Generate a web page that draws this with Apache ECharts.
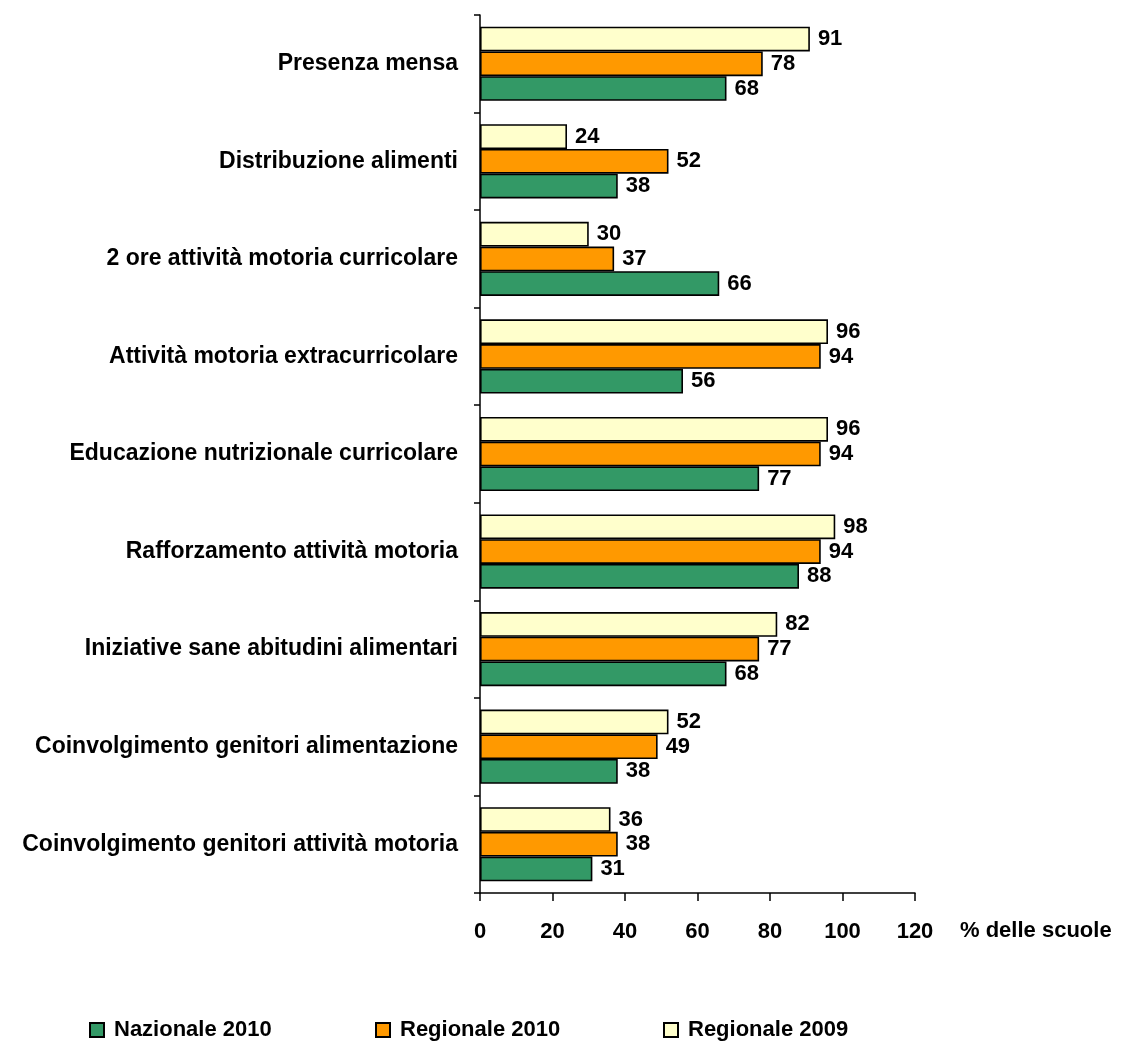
<!DOCTYPE html>
<html>
<head>
<meta charset="utf-8">
<script src="https://cdn.jsdelivr.net/npm/echarts@6/dist/echarts.min.js"></script>
<style>
  html, body { margin: 0; padding: 0; background: #fff; }
  #chart { width: 1122px; height: 1044px; }
</style>
</head>
<body>
<div id="chart"></div>
<script>
// Categories, listed top to bottom
const categories = [
  'Presenza mensa',
  'Distribuzione alimenti',
  '2 ore attività motoria curricolare',
  'Attività motoria extracurricolare',
  'Educazione nutrizionale curricolare',
  'Rafforzamento attività motoria',
  'Iniziative sane abitudini alimentari',
  'Coinvolgimento genitori alimentazione',
  'Coinvolgimento genitori attività motoria'
];

// Percent of schools per category
const nazionale2010 = [68, 38, 66, 56, 77, 88, 68, 38, 31];
const regionale2010 = [78, 52, 37, 94, 94, 94, 77, 49, 38];
const regionale2009 = [91, 24, 30, 96, 96, 98, 82, 52, 36];

const xTicks = { min: 0, max: 120, interval: 20 };
const axisName = '% delle scuole';
const legendNames = ['Nazionale 2010', 'Regionale 2010', 'Regionale 2009'];

const FONT = '"Liberation Sans", Arial, sans-serif';

function barSeries(name, data, color) {
  return {
    name: name,
    type: 'bar',
    data: data,
    barGap: '0%',
    barCategoryGap: '24%',
    itemStyle: { color: color, borderColor: '#000', borderWidth: 1.6 },
    label: {
      show: true,
      position: 'right',
      distance: 8,
      color: '#000',
      fontFamily: FONT,
      fontWeight: 'bold',
      fontSize: 22
    }
  };
}

// One legend box per entry so the entries sit on a fixed spacing
const legendLefts = [84, 370, 658];
const legends = legendNames.map((name, i) => ({
  data: [name],
  left: legendLefts[i],
  top: 1014,
  icon: 'rect',
  itemWidth: 14,
  itemHeight: 14,
  textStyle: {
    color: '#000',
    fontFamily: FONT,
    fontWeight: 'bold',
    fontSize: 22,
    padding: [0, 0, 0, 5]
  }
}));

const chart = echarts.init(document.getElementById('chart'), null, { renderer: 'canvas' });
chart.setOption({
  animation: false,
  backgroundColor: '#fff',
  grid: { left: 480, right: 207, top: 15, bottom: 151, containLabel: false },
  legend: legends,
  xAxis: {
    type: 'value',
    min: xTicks.min,
    max: xTicks.max,
    interval: xTicks.interval,
    splitLine: { show: false },
    axisLine: { show: true, lineStyle: { color: '#000', width: 1.5 } },
    axisTick: { show: true, length: 8, lineStyle: { color: '#000', width: 1.5 } },
    axisLabel: {
      margin: 28,
      color: '#000',
      fontFamily: FONT,
      fontWeight: 'bold',
      fontSize: 22
    },
    name: axisName,
    nameLocation: 'end',
    nameGap: 45,
    nameTextStyle: {
      color: '#000',
      fontFamily: FONT,
      fontWeight: 'bold',
      fontSize: 22,
      align: 'left',
      verticalAlign: 'top',
      padding: [27, 0, 0, 0]
    }
  },
  yAxis: {
    type: 'category',
    inverse: true,
    data: categories,
    axisLine: { show: true, lineStyle: { color: '#000', width: 1.5 } },
    axisTick: { show: true, length: 6, lineStyle: { color: '#000', width: 1.5 } },
    axisLabel: {
      margin: 22,
      color: '#000',
      fontFamily: FONT,
      fontWeight: 'bold',
      fontSize: 23
    }
  },
  series: [
    barSeries('Regionale 2009', regionale2009, '#FFFFCC'),
    barSeries('Regionale 2010', regionale2010, '#FF9900'),
    barSeries('Nazionale 2010', nazionale2010, '#339966')
  ]
});
</script>
</body>
</html>
